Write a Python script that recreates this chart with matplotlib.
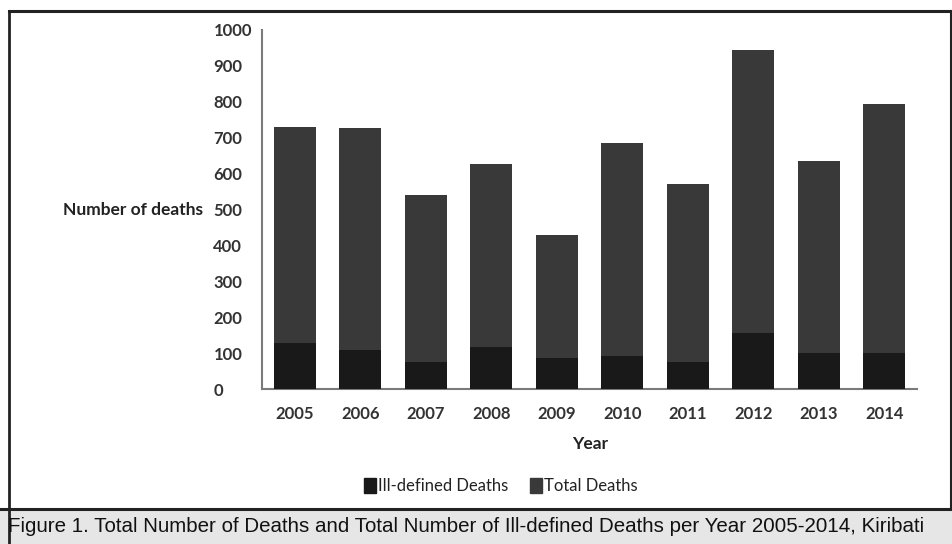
import matplotlib
matplotlib.use("Agg")
import matplotlib.pyplot as plt
from matplotlib.patches import Rectangle
from matplotlib.lines import Line2D

years = ["2005", "2006", "2007", "2008", "2009", "2010", "2011", "2012", "2013", "2014"]
total_deaths = [730, 728, 540, 628, 428, 685, 572, 945, 635, 793]
ill_defined = [127, 110, 76, 118, 87, 93, 76, 155, 101, 101]
yticks = [0, 100, 200, 300, 400, 500, 600, 700, 800, 900, 1000]

W, H = 953, 544
fig = plt.figure(figsize=(W / 100, H / 100), dpi=100)
fig.patch.set_facecolor("white")

font = ["Lato", "DejaVu Sans"]
narrow = ["Liberation Sans Narrow", "Liberation Sans", "DejaVu Sans"]

ax = fig.add_axes([262 / W, 1 - 389 / H, (917 - 262) / W, (389 - 30) / H])
x = list(range(len(years)))
ax.bar(x, total_deaths, width=0.64, color="#393939", label="Total Deaths", zorder=2)
ax.bar(x, ill_defined, width=0.64, color="#191919", label="Ill-defined Deaths", zorder=3)
ax.set_xlim(-0.5, 9.5)
ax.set_ylim(0, 1000)
ax.set_yticks(yticks)
ax.set_yticklabels([str(v) for v in yticks], family=font, fontsize=12, fontweight="bold",
                   color="#333333", ha="left")
ax.set_xticks(x)
ax.set_xticklabels(years, family=font, fontsize=12, fontweight="bold", color="#333333")
ax.tick_params(axis="both", length=0)
ax.tick_params(axis="y", pad=35)
ax.tick_params(axis="x", pad=12)
for s in ["top", "right"]:
    ax.spines[s].set_visible(False)
for s in ["left", "bottom"]:
    ax.spines[s].set_color("#7a7a7a")
    ax.spines[s].set_linewidth(1.5)

fig.text(203 / W, 1 - 210 / H, "Number of deaths", ha="right", va="center",
         family=font, fontsize=12.5, fontweight="bold", color="#222222")
fig.text(590 / W, 1 - 444 / H, "Year", ha="center", va="center",
         family=font, fontsize=12.5, fontweight="bold", color="#222222")

handles = [Rectangle((0, 0), 1, 1, color="#191919"), Rectangle((0, 0), 1, 1, color="#393939")]
leg = fig.legend(handles, ["Ill-defined Deaths", "Total Deaths"], loc="center",
                 bbox_to_anchor=(501 / W, 1 - 486 / H), ncol=2, frameon=False,
                 prop={"family": font, "size": 12}, handlelength=0.7, handleheight=1.0,
                 handletextpad=0.15, columnspacing=1.3)
for t in leg.get_texts():
    t.set_color("#222222")

# caption bar
fig.patches.append(Rectangle((0, 0), 1, (H - 509) / H, transform=fig.transFigure,
                             facecolor="#e6e6e6", edgecolor="none", zorder=0))
fig.text(8 / W, 1 - 527 / H, "Figure 1. Total Number of Deaths and Total Number of Ill-defined Deaths per Year 2005-2014, Kiribati",
         ha="left", va="center", family=narrow, fontsize=14.8, color="#111111")

# frame lines
def hline(y, x0=0, x1=W, lw=2.0, c="#222222"):
    fig.lines.append(Line2D([x0 / W, x1 / W], [1 - y / H, 1 - y / H], transform=fig.transFigure, color=c, lw=lw))

def vline(xp, y0=0, y1=H, lw=1.5, c="#222222"):
    fig.lines.append(Line2D([xp / W, xp / W], [1 - y0 / H, 1 - y1 / H], transform=fig.transFigure, color=c, lw=lw))

hline(11, x0=9, lw=2.2)
hline(508.5, lw=2.2)
vline(9.5, 11, H, lw=2.0)
vline(951.5, 11, 509, lw=1.5)

fig.savefig("out.png", dpi=100, facecolor="white")
